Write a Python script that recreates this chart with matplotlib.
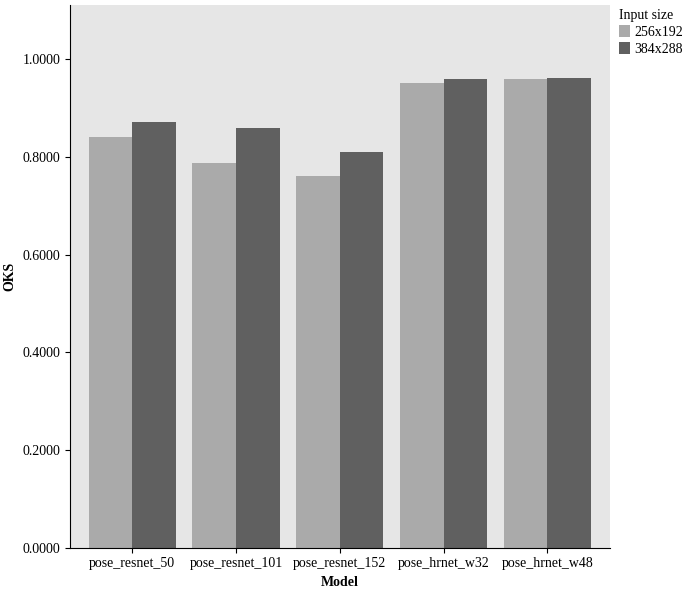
import matplotlib.pyplot as plt
import numpy as np

models = ["pose_resnet_50", "pose_resnet_101", "pose_resnet_152", "pose_hrnet_w32", "pose_hrnet_w48"]
oks_256 = [0.842, 0.789, 0.762, 0.951, 0.960]
oks_384 = [0.871, 0.860, 0.811, 0.961, 0.963]
series_labels = ["256x192", "384x288"]

plt.rcParams["font.family"] = "Liberation Serif"
fig = plt.figure(figsize=(6.85, 5.98), dpi=100)
ax = fig.add_axes([0.102, 0.084, 0.788, 0.908])
ax.set_facecolor("#e6e6e6")

x = np.arange(len(models))
w = 0.42
ax.bar(x - w / 2, oks_256, w, color="#aaaaaa", label=series_labels[0])
ax.bar(x + w / 2, oks_384, w, color="#606060", label=series_labels[1])

ax.set_xlim(-0.6, 4.6)
ax.set_ylim(0, 1.112)
ax.set_yticks(np.arange(0, 1.01, 0.2))
ax.set_yticklabels([f"{v:.4f}" for v in np.arange(0, 1.01, 0.2)])
ax.set_xticks(x)
ax.set_xticklabels(models)
ax.tick_params(labelsize=10)
for s in ["top", "right"]:
    ax.spines[s].set_visible(False)
ax.set_xlabel("Model", fontweight="bold", fontsize=10)
ax.set_ylabel("OKS", fontweight="bold", fontsize=10)

leg = ax.legend(title="Input size", loc="upper left", bbox_to_anchor=(1.0, 1.01),
                frameon=False, fontsize=10, title_fontsize=10,
                handlelength=0.8, handleheight=1.0, handletextpad=0.3,
                labelspacing=0.2, borderaxespad=0.3)
leg._legend_box.align = "left"

fig.savefig("out.png", dpi=100)
